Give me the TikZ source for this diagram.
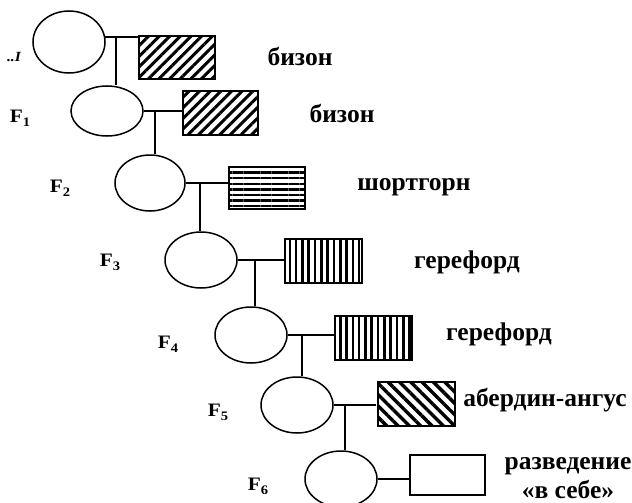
\documentclass[tikz,border=0pt]{standalone}
\usepackage{fontspec}
\setmainfont{Liberation Serif}
\newfontfamily\genfont{Liberation Serif}[FakeStretch=1.12]
\usetikzlibrary{shapes.geometric,patterns.meta}
\newcommand{\gen}[1]{F\raisebox{-4pt}{\fontsize{13}{13}\selectfont #1}}
\begin{document}
\begin{tikzpicture}[x=1pt,y=-1pt,
  gen/.style={ellipse,draw,line width=1.5pt,minimum width=72pt,minimum height=56pt,inner sep=0pt},
  sire/.style={rectangle,draw,line width=1.6pt,minimum width=76pt,minimum height=43pt,inner sep=0pt},
  link/.style={line width=1.4pt},
  breed/.style={font=\bfseries\fontsize{25.5}{28.5}\selectfont,inner sep=0pt,align=center},
  gnum/.style={font=\genfont\bfseries\fontsize{19}{20}\selectfont,inner sep=0pt},
  hatchup/.style={pattern={Lines[angle=45,distance=7.5pt,line width=3pt]}},
  hatchdown/.style={pattern={Lines[angle=-45,distance=8pt,line width=3.4pt]}},
  hatchflat/.style={pattern={Lines[angle=0,distance=5.6pt,line width=2.3pt]}},
  hatchtall/.style={pattern={Lines[angle=90,distance=6.3pt,line width=2.6pt]}}
]
\useasboundingbox (0,0) rectangle (632,503);

% generations (dams)
\node[gen,minimum height=62pt] (p0) at (69,42) {};
\node[gen,minimum height=50pt] (p1) at (107,111) {};
\node[gen,minimum width=70pt] (p2) at (150,183) {};
\node[gen] (p3) at (201,260) {};
\node[gen] (p4) at (251,335) {};
\node[gen] (p5) at (297,405) {};
\node[gen] (p6) at (341,479) {};

% sires of the breeds used
\node[sire,hatchup]   (b0) at (177,57.5) {};
\node[sire,hatchup,minimum width=75pt,minimum height=44pt] (b1) at (220.5,113) {};
\node[sire,hatchflat,minimum height=42pt] (b2) at (267,188) {};
\node[sire,hatchtall,minimum width=77pt,minimum height=44pt] (b3) at (323.5,261) {};
\node[sire,hatchtall,minimum width=77pt,minimum height=44pt] (b4) at (373.5,338) {};
\node[sire,hatchdown,minimum width=77pt,minimum height=44pt] (b5) at (416.5,404) {};
\node[sire,minimum width=75pt,minimum height=40pt] (b6) at (447.5,475) {};

% mating lines
\draw[link] (p0.8) -- (p0.8 -| b0.west);
\draw[link] (p1.east) -- (p1.east -| b1.west);
\draw[link] (p2.east) -- (p2.east -| b2.west);
\draw[link] (p3.east) -- (p3.east -| b3.west);
\draw[link] (p4.east) -- (p4.east -| b4.west);
\draw[link] (p5.east) -- (p5.east -| b5.west);
\draw[link] (p6.east) -- (p6.east -| b6.west);

% offspring lines
\coordinate (j0) at (116,0);
\coordinate (j1) at (155,0);
\coordinate (j2) at (200,0);
\coordinate (j3) at (255,0);
\coordinate (j4) at (302,0);
\coordinate (j5) at (345,0);
\draw[link] (j0 |- p0.8) -- (j0 |- p1.north);
\draw[link] (j1 |- p1.east) -- (j1 |- p2.north);
\draw[link] (j2 |- p2.east) -- (j2 |- p3.north);
\draw[link] (j3 |- p3.east) -- (j3 |- p4.north);
\draw[link] (j4 |- p4.east) -- (j4 |- p5.north);
\draw[link] (j5 |- p5.east) -- (j5 |- p6.north);

% breed names
\node[breed] (n0) at (300,56) {бизон};
\node[breed] (n1) at (342,113) {бизон};
\node[breed] (n2) at (414,187) {шортгорн};
\node[breed] (n3) at (467,262) {герефорд};
\node[breed] (n4) at (499,334) {герефорд};
\node[breed] (n5) at (545,400) {абердин-ангус};
\node[breed] (n6) at (568,478) {разведение\\«в себе»};

% generation marks
\node[gnum] (g0) at (14,57) {\fontsize{14}{14}\selectfont\itshape ..I};
\node[gnum] (g1) at (20,118) {\gen{1}};
\node[gnum] (g2) at (60,188) {\gen{2}};
\node[gnum] (g3) at (110,262) {\gen{3}};
\node[gnum] (g4) at (168,344) {\gen{4}};
\node[gnum] (g5) at (218,412) {\gen{5}};
\node[gnum] (g6) at (258,486) {\gen{6}};
\end{tikzpicture}
\end{document}
